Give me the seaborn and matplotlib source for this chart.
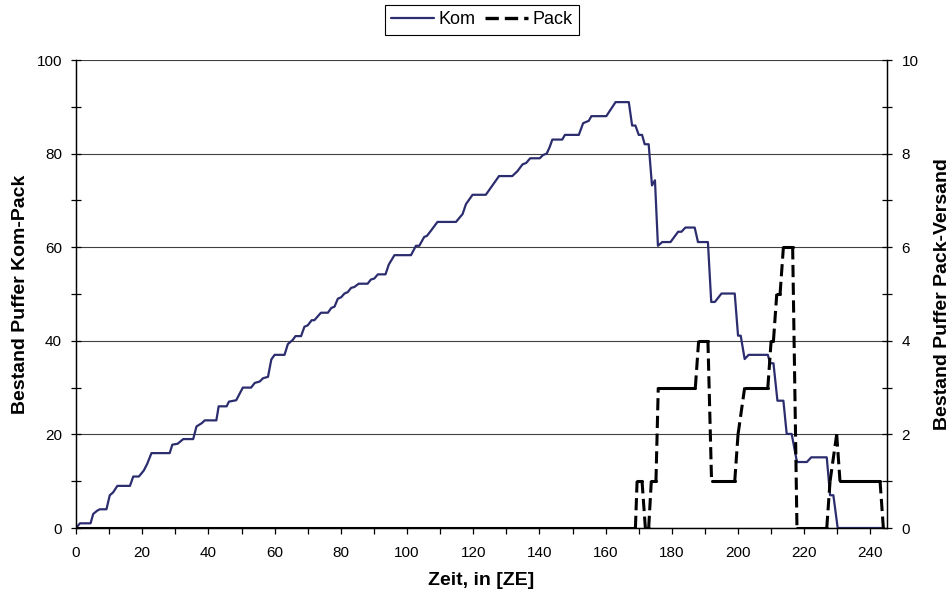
import numpy as np
import pandas as pd
import matplotlib
matplotlib.use("Agg")
import matplotlib.pyplot as plt
from matplotlib.lines import Line2D
from matplotlib.ticker import MultipleLocator
import seaborn as sns

# ---- data ----
kom_t = [0, 1.2, 4.4, 5.2, 6.4, 7.2, 9.2, 10.2, 11.2, 12.5,
         16.3, 17.3, 19.0, 20.5, 21.5, 22.8, 28.3, 29.1, 30.7, 32.4,
         35.4, 36.4, 38.0, 38.9, 42.4, 43.1, 45.5, 46.2, 48.4, 50.4,
         52.9, 54.0, 55.5, 56.5, 58.0, 59.0, 60.0, 63.0, 64.0, 65.5,
         66.3, 68.0, 69.0, 70.0, 71.2, 72.0, 74.0, 76.1, 77.1, 78.1,
         79.1, 80.1, 81.1, 82.1, 83.1, 84.1, 85.4, 88.1, 89.1, 90.1,
         91.2, 93.5, 94.5, 96.2, 101.2, 102.7, 103.7, 105.2, 106.0, 107.2,
         109.2, 114.8, 116.8, 117.8, 119.8, 123.8, 125.8, 127.8, 131.8, 133.3,
         134.9, 136.0, 137.2, 140.1, 141.1, 142.2, 143.1, 143.9, 146.9, 147.7,
         151.9, 153.2, 154.9, 155.7, 160.2, 163.0, 167.0, 168.0, 169.0, 170.0,
         171.0, 171.8, 173.0, 174.0, 174.9, 175.8, 177.1, 179.6, 181.9, 182.9,
         184.1, 186.9, 187.9, 190.9, 191.9, 193.0, 195.0, 199.0, 200.0, 200.8,
         202.0, 203.2, 209.0, 209.7, 210.7, 211.9, 213.7, 214.7, 216.2, 217.8,
         220.8, 222.1, 226.8, 227.8, 228.8, 230.1, 244.0]
kom_v = [0, 1, 1, 3, 3.7, 4, 4, 7, 7.6, 9,
         9, 11, 11, 12.3, 13.7, 16, 16, 17.8, 18, 19,
         19, 21.7, 22.4, 23, 23, 26, 26, 27, 27.3, 30,
         30, 31, 31.3, 32, 32.3, 36, 37, 37, 39.3, 40.2,
         41, 41, 43, 43.3, 44.4, 44.4, 46, 46, 47, 47.3,
         49, 49.3, 50.1, 50.4, 51.3, 51.5, 52.2, 52.2, 53.1, 53.3,
         54.2, 54.2, 56.3, 58.3, 58.3, 60.3, 60.3, 62.2, 62.4, 63.5,
         65.4, 65.4, 67.1, 69.2, 71.2, 71.2, 73.2, 75.2, 75.2, 76.2,
         77.7, 78, 79, 79, 79.7, 80, 81.4, 83, 83, 84,
         84, 86.5, 87, 88, 88, 91, 91, 86, 86, 84,
         84, 82, 82, 73.2, 74.3, 60.3, 61.1, 61.1, 63.3, 63.3,
         64.2, 64.2, 61.1, 61.1, 48.3, 48.3, 50.1, 50.1, 41.1, 41.1,
         36.1, 37, 37, 35.2, 35.2, 27.2, 27.2, 20.1, 20.1, 14.1,
         14.1, 15.1, 15.1, 7, 7, 0, 0]

pack_t = [0, 169, 169.5, 171, 172, 173, 173.8, 175.2, 175.9, 187.1,
          188.1, 190.9, 192, 199, 200, 202, 209, 210, 210.7, 211.7,
          212.7, 213.7, 216.5, 217.8, 226.8, 227.8, 229.8, 230.8, 242.9, 243.9]
pack_v = [0, 0, 1, 1, 0, 0, 1, 1, 3, 3,
          4, 4, 1, 1, 2, 3, 3, 4, 4, 5,
          5, 6, 6, 0, 0, 1, 2, 1, 1, 0]

x_ticks = [0, 20, 40, 60, 80, 100, 120, 140, 160, 180, 200, 220, 240]
left_ticks = [0, 20, 40, 60, 80, 100]
right_ticks = [0, 2, 4, 6, 8, 10]
series_names = ["Kom", "Pack"]
x_label = "Zeit, in [ZE]"
y_label_left = "Bestand Puffer Kom-Pack"
y_label_right = "Bestand Puffer Pack-Versand"

KOM_COLOR = "#2b2d6e"

sns.set_style("white")
plt.rcParams["font.family"] = ["Liberation Sans", "DejaVu Sans"]
plt.rcParams["text.color"] = "black"
plt.rcParams["axes.labelcolor"] = "black"
plt.rcParams["xtick.color"] = "black"
plt.rcParams["ytick.color"] = "black"

kom_df = pd.DataFrame({"t": kom_t, "v": kom_v})

# Pack line split into segments: flat parts solid, transitions dashed (as in the reference)
rows = []
for i in range(len(pack_t) - 1):
    kind = "flat" if pack_v[i] == pack_v[i + 1] else "slope"
    rows.append({"t": pack_t[i], "v": pack_v[i], "seg": i, "kind": kind})
    rows.append({"t": pack_t[i + 1], "v": pack_v[i + 1], "seg": i, "kind": kind})
pack_df = pd.DataFrame(rows)

fig = plt.figure(figsize=(9.52, 5.96), dpi=100)
ax = fig.add_axes([76 / 952, 68 / 596, 811 / 952, 468 / 596])
ax2 = ax.twinx()

sns.lineplot(data=kom_df, x="t", y="v", ax=ax, color=KOM_COLOR, linewidth=1.6,
             estimator=None, sort=False, legend=False)
sns.lineplot(data=pack_df, x="t", y="v", units="seg", style="kind",
             dashes={"flat": "", "slope": (4, 1.8)}, ax=ax2, color="black",
             linewidth=2.2, estimator=None, sort=False, legend=False)

ax.set_xlim(0, 245)
ax.set_ylim(0, 100)
ax2.set_ylim(0, 10)

ax.set_xticks(x_ticks)
ax.xaxis.set_minor_locator(MultipleLocator(10))
ax.set_yticks(left_ticks)
ax.yaxis.set_minor_locator(MultipleLocator(10))
ax2.set_yticks(right_ticks)
ax2.yaxis.set_minor_locator(MultipleLocator(1))

ax.grid(axis="y", which="major", color="#404040", linewidth=0.8)
ax.set_axisbelow(True)

for a in (ax, ax2):
    a.spines["top"].set_visible(False)
    for s in ("left", "right", "bottom"):
        a.spines[s].set_color("black")
        a.spines[s].set_linewidth(0.9)

ax.tick_params(axis="x", which="both", direction="out", length=4, width=0.9,
               color="black", labelcolor="black", labelsize=11, pad=9, bottom=True)
ax.tick_params(axis="y", which="both", direction="inout", length=7, width=0.9,
               color="black", labelcolor="black", labelsize=11, pad=6.5, left=True)
ax2.tick_params(axis="y", which="both", direction="inout", length=7, width=0.9,
                color="black", labelcolor="black", labelsize=11, pad=7, right=True)

ax.set_xlabel(x_label, fontsize=14, fontweight="bold", color="black")
ax.set_ylabel(y_label_left, fontsize=14, fontweight="bold", color="black")
ax2.set_ylabel(y_label_right, fontsize=14, fontweight="bold", rotation=90, color="black")
ax.xaxis.set_label_coords(0.5, -0.094)
ax.yaxis.set_label_coords(-0.058, 0.5)
ax2.yaxis.set_label_coords(1.0575, 0.5)

handles = [Line2D([], [], color=KOM_COLOR, linewidth=1.6),
           Line2D([], [], color="black", linewidth=2.4, dashes=(4, 1.8))]
leg = fig.legend(handles, series_names, loc="upper center",
                 bbox_to_anchor=(482 / 952, 1 - 5 / 596), ncol=2,
                 fontsize=13, frameon=True, fancybox=False, framealpha=1,
                 edgecolor="black", handlelength=2.4, handletextpad=0.25,
                 columnspacing=0.5, borderpad=0.35, borderaxespad=0)
leg.get_frame().set_linewidth(0.8)
for txt in leg.get_texts():
    txt.set_color("black")

fig.savefig("out.png", dpi=100)
